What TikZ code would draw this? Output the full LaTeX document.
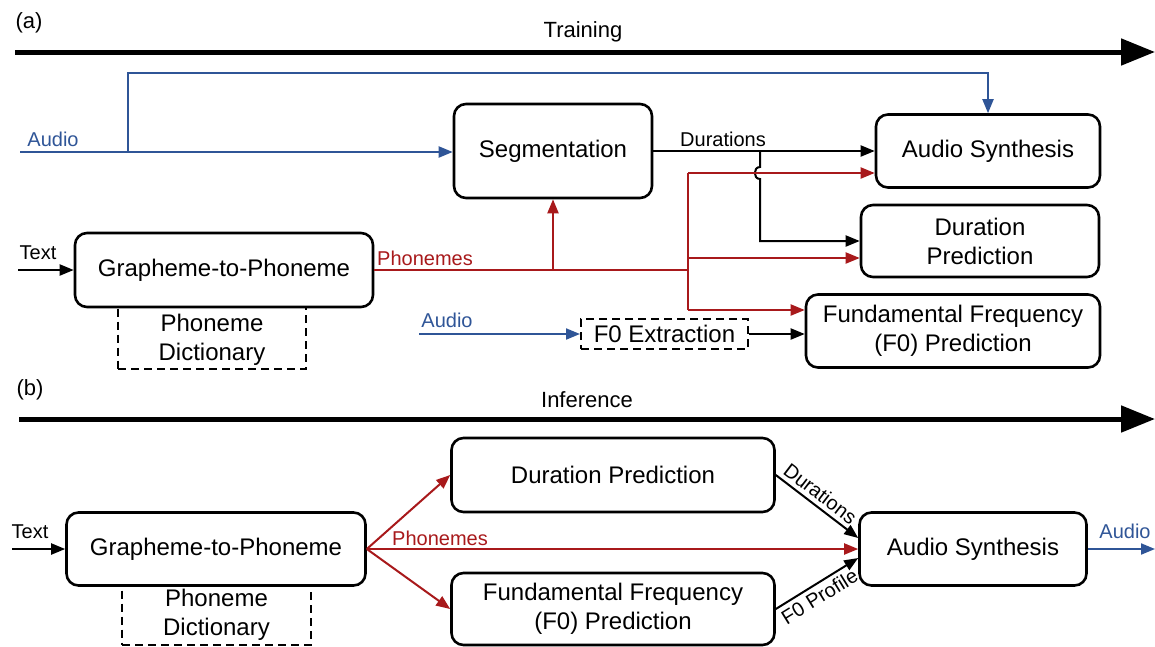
\documentclass[tikz,border=0pt]{standalone}
\usepackage{fontspec}
\setmainfont{Liberation Sans}
\usetikzlibrary{arrows.meta,calc}
\definecolor{myblue}{HTML}{2F5597}
\definecolor{myred}{HTML}{A8191B}
\begin{document}
\begin{tikzpicture}[x=1pt,y=-1pt,
 box/.style={draw, line width=2.6pt, rounded corners=12pt, align=center, inner sep=0pt, fill=white, font=\fontsize{24}{29}\selectfont},
 dbox/.style={draw, dash pattern=on 8pt off 5pt, line width=2pt, align=center, inner sep=0pt, font=\fontsize{24}{29}\selectfont},
 lab/.style={font=\fontsize{20}{24}\selectfont, inner sep=1pt},
 title/.style={font=\fontsize{22}{26}\selectfont, inner sep=1pt},
 conn/.style={line width=2pt, -{Triangle[length=14pt,width=11pt]}},
 plain/.style={line width=2pt},
 bigarrow/.style={line width=5pt, -{Triangle[length=34pt,width=26pt]}},
]
\useasboundingbox (0,0) rectangle (1155,646);

% ---------------- (a) Training ----------------
\node[title] (la) at (29,23) {(a)};
\node[title] (ttrain) at (583,32) {Training};
\coordinate (ta0) at (15,52);
\coordinate (ta1) at (1155,52);
\draw[bigarrow] (ta0) -- (ta1);

\node[dbox, minimum width=188pt, minimum height=63pt, text depth=0pt] (dictA) at (212,337) {Phoneme\\Dictionary};
\node[box, minimum width=298pt, minimum height=74pt] (g2pA) at (224,270) {Grapheme-to-Phoneme};
\node[box, minimum width=198pt, minimum height=94pt] (seg) at (553,151) {Segmentation};
\node[box, minimum width=224pt, minimum height=73pt] (synA) at (988,151) {Audio Synthesis};
\node[box, minimum width=238pt, minimum height=72pt] (durA) at (980,241) {Duration\\Prediction};
\node[box, minimum width=294pt, minimum height=73pt] (f0A) at (953,331) {Fundamental Frequency\\(F0) Prediction};
\node[dbox, minimum width=167pt, minimum height=30pt] (f0x) at (664.5,334) {F0 Extraction};

% audio inputs
\coordinate (audA) at (20,152);
\coordinate (audsplit) at (128,152);
\node[lab, text=myblue] (laudA) at (53,139) {Audio};
\draw[conn, myblue] (audA) -- (seg.west |- audA);
\draw[conn, myblue] (audsplit) -- (128,73) -| (synA.north);

\coordinate (aud2) at (419,334);
\node[lab, text=myblue] (laud2) at (447,320) {Audio};
\draw[conn, myblue] (aud2) -- (f0x.west);
\draw[conn] (f0x.east) -- (f0A.west |- f0x.east);

% text input
\coordinate (txtA) at (18,270);
\node[lab] (ltxtA) at (38,253) {Text};
\draw[conn] (txtA) -- (g2pA.west);

% durations
\node[lab] (ldurA) at (723,139) {Durations};
\draw[conn] (seg.east) -- (synA.west);
\coordinate (dsplit) at (760,151);
\draw[conn] (dsplit) -- (760,167) .. controls (753,167) and (753,179) .. (760,179) -- (760,241) -- (durA.west);

% phonemes
\node[lab, text=myred] (lphA) at (425,258) {Phonemes};
\coordinate (psplit) at (553,270);
\coordinate (pbus) at (688,270);
\draw[plain, myred] (g2pA.east) -- (pbus);
\draw[conn, myred] (psplit) -- (seg.south);
\draw[plain, myred] (688,173) -- (688,310);
\draw[conn, myred] (688,173) -- (synA.west |- 0,173);
\draw[conn, myred] (688,258) -- (durA.west |- 0,258);
\draw[conn, myred] (688,310) -- (f0A.west |- 0,310);

% ---------------- (b) Inference ----------------
\node[title] (lb) at (30,390) {(b)};
\node[title] (tinf) at (587,400) {Inference};
\coordinate (tb0) at (19,419);
\coordinate (tb1) at (1155,419);
\draw[bigarrow] (tb0) -- (tb1);

\node[dbox, minimum width=189pt, minimum height=59pt] (dictB) at (216.5,615) {Phoneme\\Dictionary};
\node[box, minimum width=299pt, minimum height=73pt] (g2pB) at (216,549) {Grapheme-to-Phoneme};
\node[box, minimum width=323pt, minimum height=74pt] (durB) at (613,475) {Duration Prediction};
\node[box, minimum width=323pt, minimum height=72pt] (f0B) at (613,609) {Fundamental Frequency\\(F0) Prediction};
\node[box, minimum width=227pt, minimum height=73pt] (synB) at (973,549) {Audio Synthesis};

\coordinate (txtB) at (12,549);
\node[lab] (ltxtB) at (30,532) {Text};
\draw[conn] (txtB) -- (g2pB.west);

\draw[conn, myred] (g2pB.east) -- (durB.west);
\draw[conn, myred] (g2pB.east) -- (f0B.west);
\draw[conn, myred] (g2pB.east) -- (synB.west);
\node[lab, text=myred] (lphB) at (440,538) {Phonemes};

\draw[conn] (durB.east) -- node[lab, sloped, above, inner sep=4pt, pos=0.45] (ldurB) {Durations} ($(synB.west)+(0,-11)$);
\draw[conn] (f0B.east) -- node[lab, sloped, below, inner sep=4pt, pos=0.45] (lf0B) {F0 Profile} ($(synB.west)+(0,9)$);

\coordinate (audB) at (1155,549);
\node[lab, text=myblue] (laudB) at (1125,531) {Audio};
\draw[conn, myblue] (synB.east) -- (audB);
\end{tikzpicture}
\end{document}
